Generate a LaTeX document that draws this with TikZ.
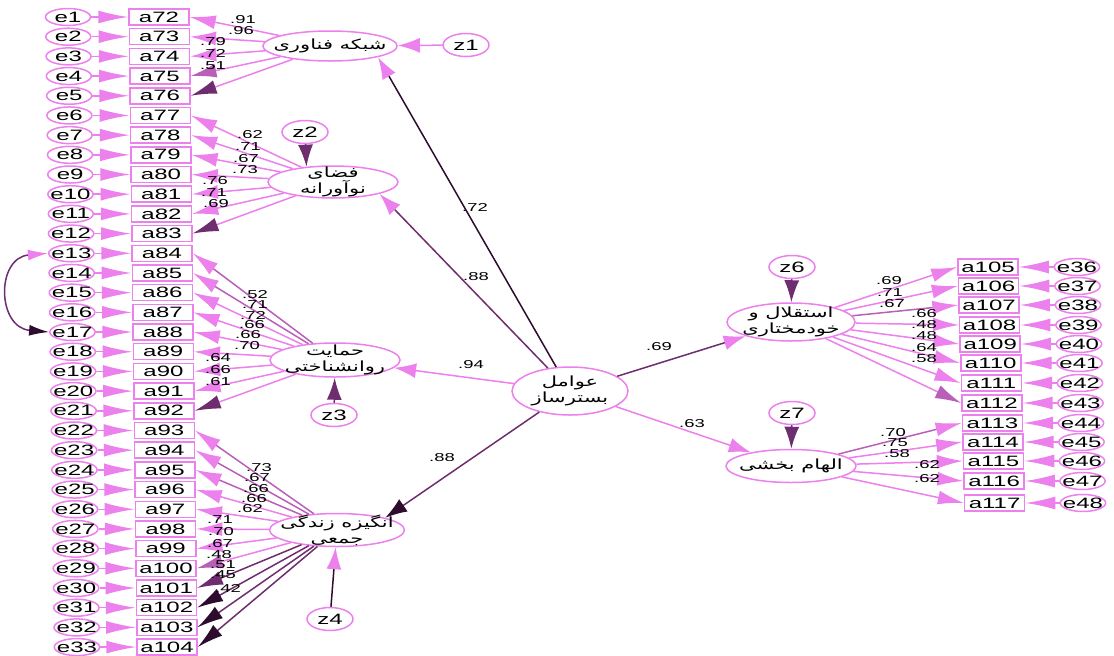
\documentclass[tikz,border=0pt]{standalone}
\usepackage{fontspec}
\setmainfont{Liberation Sans}[FakeStretch=1.6]
\newfontfamily\fafont[Script=Arabic,FakeStretch=1.5]{DejaVu Sans}
\TeXXeTstate=1
\usepackage{tikz}
\usetikzlibrary{arrows.meta,shapes,positioning}
\definecolor{pk}{RGB}{236,128,236}
\definecolor{md}{RGB}{185,95,185}
\definecolor{pu}{RGB}{110,45,110}
\definecolor{bk}{RGB}{45,12,45}
\tikzstyle{obs} = [draw=pk, line width=1.5pt, fill=white, minimum width=60pt, minimum height=16pt, inner sep=0pt, font=\fontsize{15}{15}\selectfont]
\tikzstyle{err} = [ellipse, draw=pk, line width=1.5pt, fill=white, minimum width=45pt, minimum height=17pt, inner xsep=-4pt, inner ysep=-3pt, font=\fontsize{15}{15}\selectfont]
\tikzstyle{dist} = [err, minimum width=46pt, minimum height=23pt]
\tikzstyle{latent} = [ellipse, draw=pk, line width=1.5pt, fill=white, minimum width=130pt, minimum height=32pt, inner xsep=-9pt, inner ysep=-6pt, align=center, font=\fafont\fontsize{14}{16}\selectfont]
\tikzstyle{coef} = [inner sep=0pt, font=\fontsize{11.5}{12}\selectfont]
\tikzstyle{errarrow} = [line width=1.5pt, draw=pk, -{Latex[length=30pt,width=13pt]}]
\tikzset{
  load/.style={line width=1.5pt, draw=#1},
  ldtip/.style={-{Latex[length=26pt,width=14pt,color=#1]}},
  sttip/.style={-{Latex[length=22pt,width=15pt,color=#1]}},
}

\begin{document}
\begin{tikzpicture}[x=1pt,y=-1pt]
\useasboundingbox (0,0) rectangle (1114,656);

% left indicators with their errors
\foreach \i [evaluate=\i as \yy using 17+(\i-1)*19.69,
             evaluate=\i as \ex using 68+0.28*(\i-1),
             evaluate=\i as \ax using 159+0.25*(\i-1),
             evaluate=\i as \n using int(71+\i)] in {1,...,33} {
  \node[err] (e\i) at (\ex,\yy) {e\i};
  \node[obs] (a\n) at (\ax,\yy) {a\n};
  \draw[errarrow] (e\i) -- (a\n);
}

% right indicators with their errors
\foreach \n/\m/\yy [count=\k from 0] in {105/36/267,106/37/286,107/38/305,108/39/325,109/40/344,110/41/363,111/42/383,112/43/403,113/44/423,114/45/442,115/46/461,116/47/481,117/48/503} {
  \node[obs] (a\n) at ({988+0.55*\k},\yy) {a\n};
  \node[err] (e\m) at ({1077+0.5*\k},\yy) {e\m};
  \draw[errarrow] (e\m) -- (a\n);
}

% latent variables
\node[latent, minimum height=30pt] (net) at (330,46) {\beginR شبکه فناوری\endR};
\node[latent] (inn) at (333,182) {\beginR فضای\endR\\\beginR نوآورانه\endR};
\node[latent, minimum height=34pt] (psy) at (335,360) {\beginR حمایت\endR\\\beginR روانشناختی\endR};
\node[latent, minimum height=33pt] (mot) at (337,530) {\beginR انگیزه زندگی\endR\\\beginR جمعی\endR};
\node[latent, minimum width=116pt, minimum height=48pt] (fac) at (570,391) {\beginR عوامل\endR\\\beginR بسترساز\endR};
\node[latent, minimum width=128pt, minimum height=38pt] (aut) at (791,322) {\beginR استقلال و\endR\\\beginR خودمختاری\endR};
\node[latent, minimum height=33pt] (ins) at (791,466) {\beginR الهام بخشی\endR};

% disturbances
\node[dist] (z1) at (466,45) {z1};
\node[dist] (z2) at (305,132) {z2};
\node[dist] (z3) at (334,415) {z3};
\node[dist] (z4) at (330,619) {z4};
\node[dist] (z6) at (792,267) {z6};
\node[dist] (z7) at (792,413) {z7};

\draw[load=pk, sttip=pk] (z1) -- (net);
\draw[load=pu, sttip=pu] (z2) -- (inn.150);
\draw[load=pu, sttip=pu] (z3) -- (psy);
\draw[load=bk, sttip=pk] (z4) -- (mot);
\draw[load=pu, sttip=pu] (z6) -- (aut);
\draw[load=pu, sttip=pu] (z7) -- (ins);

% structural paths
\draw[load=bk, sttip=pk] (fac) -- (net.south east);
\draw[load=pu, sttip=pk] (fac) -- (inn.south east);
\draw[load=pk, sttip=pk] (fac) -- (psy);
\draw[load=pu, sttip=bk] (fac) -- (mot.north east);
\draw[load=pu, sttip=pk] (fac) -- (aut);
\draw[load=pk, sttip=pk] (fac) -- (ins);

% loadings
\foreach \n/\lc/\tc in {72/pk/pk,73/pk/pk,74/pk/pk,75/pk/md,76/pk/pu}
  \draw[load=\lc, ldtip=\tc] (net) -- (a\n.east);
\foreach \n/\lc/\tc in {77/pk/pk,78/pk/pk,79/pk/pk,80/pk/pk,81/pk/pk,82/pk/pk,83/pk/pu}
  \draw[load=\lc, ldtip=\tc] (inn) -- (a\n.east);
\foreach \n/\lc/\tc in {84/md/pk,85/md/pk,86/pk/pk,87/pk/pk,88/pk/pk,89/pk/pk,90/pk/pk,91/pk/pk,92/pk/pu}
  \draw[load=\lc, ldtip=\tc] (psy) -- (a\n.east);
\foreach \n/\lc/\tc in {93/md/pk,94/md/pk,95/md/pk,96/pk/pk,97/pk/pk,98/pk/pk,99/pk/pk,100/pk/md,101/pu/pu,102/pu/bk,103/pu/bk,104/pu/bk}
  \draw[load=\lc, ldtip=\tc] (mot) -- (a\n.east);
\foreach \n/\lc/\tc in {105/pk/pk,106/pk/pk,107/md/pk,108/pk/pk,109/pk/pk,110/pk/pk,111/pk/pk,112/pk/md}
  \draw[load=\lc, ldtip=\tc] (aut) -- (a\n.west);
\foreach \n/\lc/\tc in {113/md/pk,114/pk/pk,115/pk/pk,116/pk/pk,117/pk/pk}
  \draw[load=\lc, ldtip=\tc] (ins) -- (a\n.west);

% correlated errors
\draw[line width=1.5pt, draw=pu, {Latex[length=20pt,width=11pt,color=pk]}-{Latex[length=20pt,width=11pt,color=bk]}]
  (e13.west) to[out=185,in=175,looseness=1.7] (e17.west);

% coefficients
\foreach \x/\y/\v [count=\k] in {243/20/.91,241/31/.96,213/42/.79,213/53/.72,213/66/.51,
  250/135/.62,248/147/.71,246/159/.67,245/170/.73,215/181/.76,214/193/.71,216/204/.69,
  255/295/.52,255/305/.71,253/315/.72,252/325/.66,248/335/.66,247/346/.70,218/358/.64,218/370/.66,218/382/.61,
  259/468/.73,257/478/.67,256/489/.66,254/499/.66,250/509/.62,220/520/.71,221/532/.70,220/544/.67,219/555/.48,223/565/.51,223/575/.45,228/588/.42,
  889/281/.69,890/293/.71,892/304/.67,924/314/.66,924/325/.48,924/336/.48,924/348/.64,924/359/.58,
  893/433/.70,895/443/.75,897/454/.58,927/465/.62,927/479/.62,
  475/207/.72,476/277/.88,471/365/.94,442/458/.88,659/347/.69,692/424/.63}
  \node[coef] (c\k) at (\x,\y) {\v};
\end{tikzpicture}
\end{document}
